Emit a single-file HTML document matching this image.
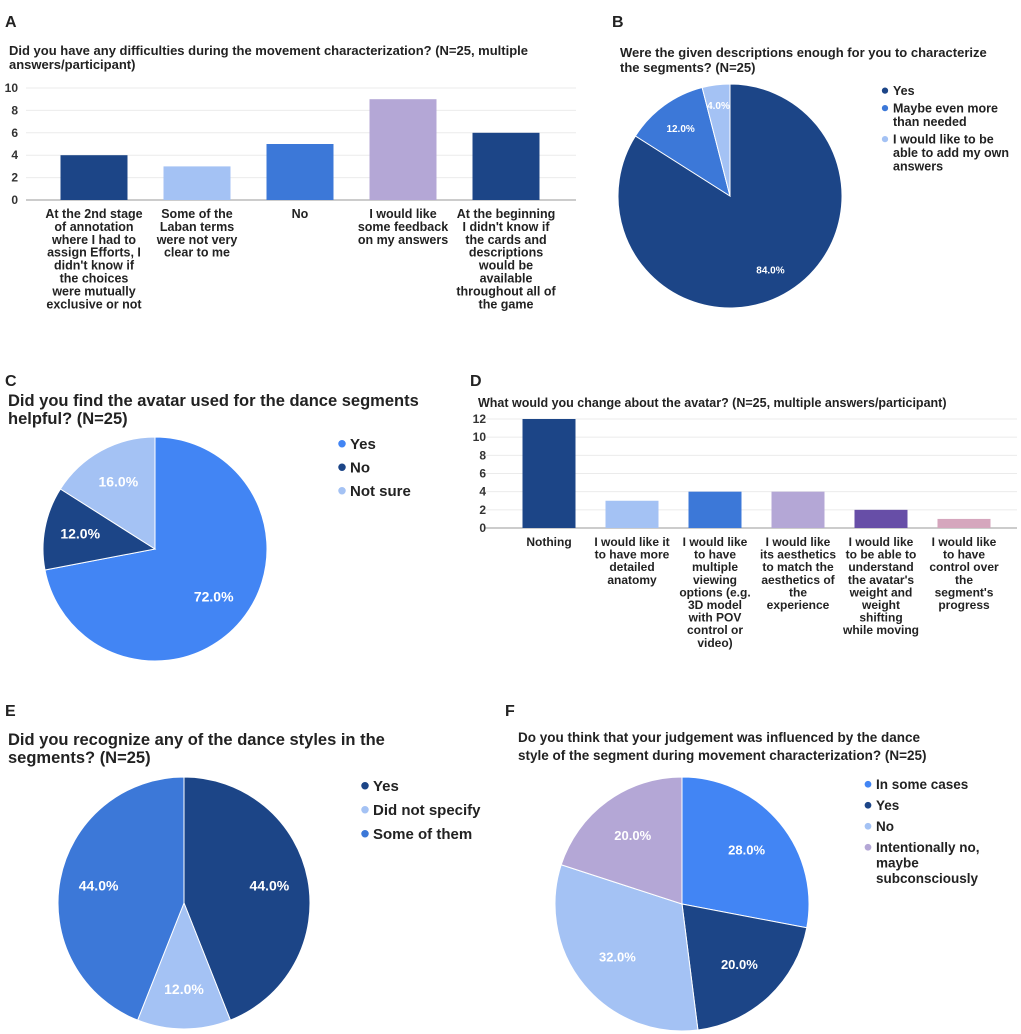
<!DOCTYPE html>
<html><head><meta charset="utf-8"><style>
body{margin:0;background:#fff;width:1021px;height:1034px;overflow:hidden}
svg{display:block;font-family:"Liberation Sans",Arial,sans-serif}
text{font-weight:bold}
</style></head><body>
<svg id="s" width="1021" height="1034" viewBox="0 0 1021 1034">
<g id="static" fill="#222">
<text x="5" y="27" font-size="16">A</text>
<text x="9" y="55" font-size="13">Did you have any difficulties during the movement characterization? (N=25, multiple</text>
<text x="9" y="69" font-size="13">answers/participant)</text>
<text x="612" y="27" font-size="16">B</text>
<text x="620" y="57" font-size="13">Were the given descriptions enough for you to characterize</text>
<text x="620" y="72" font-size="13">the segments? (N=25)</text>
<text x="5" y="386" font-size="16">C</text>
<text x="8" y="406" font-size="16.5">Did you find the avatar used for the dance segments</text>
<text x="8" y="424" font-size="16.5">helpful? (N=25)</text>
<text x="470" y="386" font-size="16">D</text>
<text x="478" y="407" font-size="12.5">What would you change about the avatar? (N=25, multiple answers/participant)</text>
<text x="5" y="716" font-size="16">E</text>
<text x="8" y="745" font-size="16.5">Did you recognize any of the dance styles in the</text>
<text x="8" y="763" font-size="16.5">segments? (N=25)</text>
<text x="505" y="716" font-size="16">F</text>
<text x="518" y="742" font-size="13.5">Do you think that your judgement was influenced by the dance</text>
<text x="518" y="760" font-size="13.5">style of the segment during movement characterization? (N=25)</text>
</g>
</svg>
<script>
const aCats=[["At the 2nd stage","of annotation","where I had to","assign Efforts, I","didn't know if","the choices","were mutually","exclusive or not"],["Some of the","Laban terms","were not very","clear to me"],["No"],["I would like","some feedback","on my answers"],["At the beginning","I didn't know if","the cards and","descriptions","would be","available","throughout all of","the game"]];
const aVals=[4,3,5,9,6];
const aTicks=[0,2,4,6,8,10];
const dCats=[["Nothing"],["I would like it","to have more","detailed","anatomy"],["I would like","to have","multiple","viewing","options (e.g.","3D model","with POV","control or","video)"],["I would like","its aesthetics","to match the","aesthetics of","the","experience"],["I would like","to be able to","understand","the avatar's","weight and","weight","shifting","while moving"],["I would like","to have","control over","the","segment's","progress"]];
const dVals=[12,3,4,4,2,1];
const dTicks=[0,2,4,6,8,10,12];
const bLabels=["Yes","Maybe even more|than needed","I would like to be|able to add my own|answers"];
const bVals=[84,12,4];
const cLabels=["Yes","No","Not sure"];
const cVals=[72,12,16];
const eLabels=["Yes","Did not specify","Some of them"];
const eVals=[44,12,44];
const fLabels=["In some cases","Yes","No","Intentionally no,|maybe|subconsciously"];
const fVals=[28,20,32,20];

const NS="http://www.w3.org/2000/svg",S=document.getElementById('s');
function el(t,a,p){const e=document.createElementNS(NS,t);for(const k in a)e.setAttribute(k,a[k]);(p||S).appendChild(e);return e;}
const DK="#1c4587",LT="#a4c2f4",MD="#3c78d8",LV="#b4a7d6",PU="#674ea7",PK="#d5a6bd",GB="#4285f4";

function bar(cats,vals,ticks,o,colors,name){
  const g=el('g',{});
  
  
  const max=ticks[ticks.length-1];
  const y=v=>o.y0-(v/max)*(o.y0-o.y1);
  const x=i=>o.c0+i*o.step;
  ticks.forEach(t=>{
    const l=el('line',{x1:o.gx0,x2:o.gx1,y1:y(t),y2:y(t),stroke:t?"#ebebeb":"#bbb","stroke-width":t?1:1.5},g);
    
    
    const tx=el('text',{x:o.tx,y:y(t)+4,"font-size":12,"text-anchor":"end",fill:"#333"},g);
    tx.textContent=t;
    
    
  });
  vals.forEach((v,i)=>{
    const r=el('rect',{x:x(i)-o.bw/2,y:y(v),width:o.bw,height:o.y0-y(v),fill:colors[i]},g);
    
    
    cats[i].forEach((s,j)=>{
      const t=el('text',{x:x(i),y:o.ly+j*o.lh,"font-size":o.fs,"text-anchor":"middle",fill:"#222"},g);
      t.textContent=s;
      
      
    });
  });
}
bar(aCats,aVals,aTicks,{y0:200,y1:88,c0:94,step:103,bw:67,gx0:26,gx1:576,tx:18,ly:218,lh:12.9,fs:12.5},[DK,LT,MD,LV,DK],'chart-a');
bar(dCats,dVals,dTicks,{y0:528,y1:419,c0:549,step:83,bw:53,gx0:485,gx1:1017,tx:486,ly:546,lh:12.6,fs:12},[DK,LT,MD,LV,PU,PK],'chart-d');

function pie(vals,labels,colors,o,name){
  const g=el('g',{});
  
  
  const tot=vals.reduce((a,b)=>a+b,0);let a0=0;
  vals.forEach((v,i)=>{
    const a1=a0+v/tot*2*Math.PI;
    const p=(a)=>[o.cx+o.r*Math.sin(a),o.cy-o.r*Math.cos(a)];
    const [x0,y0]=p(a0),[x1,y1]=p(a1);
    const s=el('path',{d:`M${o.cx},${o.cy}L${x0},${y0}A${o.r},${o.r} 0 ${a1-a0>Math.PI?1:0} 1 ${x1},${y1}Z`,fill:colors[i],stroke:"#fff","stroke-width":1},g);
    
    
    const am=(a0+a1)/2,rr=o.r*(v/tot<0.06?0.82:o.lf);
    const t=el('text',{x:o.cx+rr*Math.sin(am),y:o.cy-rr*Math.cos(am)+4,"font-size":o.pfs,"text-anchor":"middle",fill:"#fff"},g);
    t.textContent=(v/tot*100).toFixed(1)+"%";
    
    
    a0=a1;
  });
  let ly=o.ly;
  labels.forEach((L,i)=>{
    const c=el('circle',{cx:o.lx-8,cy:ly-o.lfs*0.35,r:o.lfs*0.25,fill:colors[i]},g);
    
    
    const parts=L.split('|');
    parts.forEach((s,j)=>{
      const t=el('text',{x:o.lx,y:ly+j*o.llh,"font-size":o.lfs,fill:"#222"},g);
      t.textContent=s;
      
      
    });
    ly+=parts.length*o.llh+o.lgap;
  });
}
pie(bVals,bLabels,[DK,MD,LT],{cx:730,cy:196,r:112,lf:0.75,pfs:10,lx:893,ly:95,llh:13.5,lgap:4,lfs:12.5},'chart-b');
pie(cVals,cLabels,[GB,DK,LT],{cx:155,cy:549,r:112,lf:0.68,pfs:14,lx:350,ly:449,llh:23.5,lgap:0,lfs:15},'chart-c');
pie(eVals,eLabels,[DK,LT,MD],{cx:184,cy:903,r:126,lf:0.69,pfs:14,lx:373,ly:791,llh:24,lgap:0,lfs:15},'chart-e');
pie(fVals,fLabels,[GB,DK,LT,LV],{cx:682,cy:904,r:127,lf:0.66,pfs:13,lx:876,ly:789,llh:15.5,lgap:5.5,lfs:13.5},'chart-f');
</script>
</body></html>
